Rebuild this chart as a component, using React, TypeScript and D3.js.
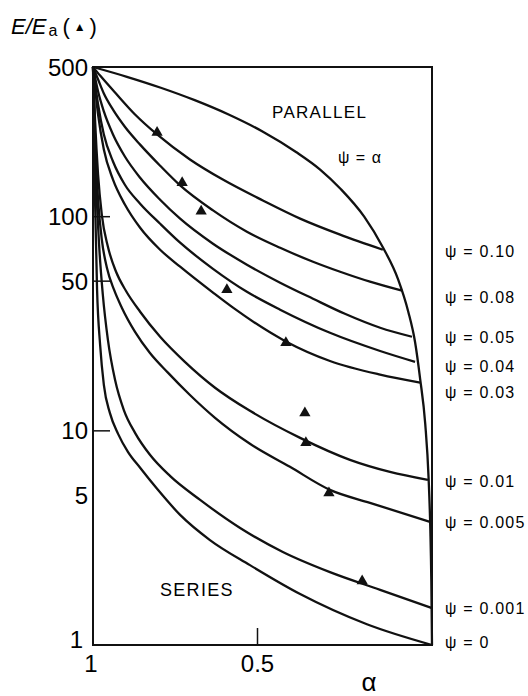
import React, { useEffect, useRef } from 'react';
import * as d3 from 'd3';

type Pt = [number, number]; // [alpha, E/Ea]

const yTickValues = [500, 100, 50, 10, 5, 1];
const yTickMarks = [100, 50, 10];
const xTickValues = [1, 0.5];
const xTickMarks = [0.5];

// upper bound (psi = alpha)
const parallel: Pt[] = [
  [1, 500], [0.9, 450], [0.8, 400], [0.7, 350], [0.6, 300], [0.5, 250],
  [0.4, 200], [0.33, 166], [0.27, 135], [0.2, 100], [0.145, 72], [0.1, 51],
  [0.07, 36], [0.05, 26], [0.035, 17.5], [0.02, 10.8], [0.01, 6], [0.005, 3.5],
  [0.002, 2], [0, 1],
];

const psi010: Pt[] = [
  [1, 500], [0.979, 456], [0.935, 380], [0.876, 300], [0.811, 242], [0.714, 185],
  [0.617, 149], [0.499, 119], [0.389, 97.9], [0.271, 82.4], [0.145, 70.1],
];

const psi008: Pt[] = [
  [1, 500], [0.985, 437], [0.968, 376], [0.941, 316], [0.906, 263], [0.861, 217],
  [0.802, 173], [0.743, 140], [0.646, 107], [0.546, 85.1], [0.448, 71.6],
  [0.351, 61.6], [0.271, 55.3], [0.183, 49.7], [0.088, 45.1],
];

const psi005: Pt[] = [
  [1, 500], [0.985, 384], [0.968, 310], [0.941, 242], [0.906, 191], [0.861, 152],
  [0.802, 120], [0.743, 97.9], [0.646, 74.8], [0.546, 59.7], [0.448, 49.2],
  [0.351, 41.4], [0.257, 35.2], [0.153, 30.3], [0.059, 27.5],
];

const psi004: Pt[] = [
  [1, 500], [0.985, 334], [0.968, 242], [0.941, 181], [0.906, 141], [0.861, 115],
  [0.802, 92.7], [0.743, 75.6], [0.646, 57.1], [0.546, 44.6], [0.448, 36.8],
  [0.301, 28.7], [0.153, 23.6], [0.05, 21],
];

const psi003: Pt[] = [
  [1, 500], [0.985, 300], [0.968, 206], [0.941, 149], [0.906, 114], [0.861, 88.8],
  [0.802, 70.1], [0.743, 58.4], [0.646, 44.2], [0.587, 37.6], [0.434, 26.3],
  [0.301, 21.2], [0.153, 18.3], [0.035, 16.8],
];

const psi001: Pt[] = [
  [1, 500], [0.994, 284], [0.985, 157], [0.974, 102], [0.956, 72.4], [0.932, 55.3],
  [0.903, 45.1], [0.861, 36], [0.802, 27.5], [0.729, 21], [0.64, 15.9],
  [0.537, 12.4], [0.389, 9.27], [0.242, 7.32], [0.124, 6.43], [0.012, 5.9],
];

const psi0005: Pt[] = [
  [1, 500], [0.994, 229], [0.985, 120], [0.974, 78.1], [0.959, 57.8], [0.938, 45.6],
  [0.915, 37.6], [0.876, 29], [0.832, 23.1], [0.779, 18.7], [0.714, 14.7],
  [0.64, 11.5], [0.537, 8.7], [0.419, 6.79], [0.301, 5.3], [0.183, 4.61],
  [0.006, 3.76],
];

const psi0001: Pt[] = [
  [1, 500], [0.991, 149], [0.982, 74], [0.971, 43.2], [0.956, 26.6], [0.935, 17.3],
  [0.909, 12.5], [0.876, 9.79], [0.832, 7.73], [0.773, 6.16], [0.684, 4.76],
  [0.566, 3.52], [0.44, 2.72], [0.301, 2.19], [0.153, 1.81], [0.001, 1.49],
];

// lower bound (series)
const psi0: Pt[] = [
  [1, 500], [0.994, 120], [0.988, 45.6], [0.979, 25.2], [0.968, 16.4], [0.95, 12.1],
  [0.926, 9.68], [0.897, 7.98], [0.861, 6.72], [0.811, 5.36], [0.743, 4.05],
  [0.655, 3.09], [0.537, 2.36], [0.389, 1.73], [0.192, 1.25], [0, 1],
];

const curves: Pt[][] = [parallel, psi010, psi008, psi005, psi004, psi003, psi001, psi0005, psi0001, psi0];

const psiLabels = ['ψ = 0.10', 'ψ = 0.08', 'ψ = 0.05', 'ψ = 0.04', 'ψ = 0.03', 'ψ = 0.01', 'ψ = 0.005', 'ψ = 0.001', 'ψ = 0'];
const psiLabelAt = [68.6, 42.2, 27.2, 20.1, 15.2, 5.78, 3.75, 1.49, 1.03];

// measured E/Ea (filled triangles)
const measured: Pt[] = [
  [0.811, 247], [0.737, 144], [0.681, 106], [0.605, 45.6], [0.431, 25.8],
  [0.375, 12.1], [0.372, 8.8], [0.304, 5.13], [0.206, 1.99],
];

const FONT = '"Liberation Sans", Arial, sans-serif';

const App: React.FC = () => {
  const svgRef = useRef<SVGSVGElement>(null);

  useEffect(() => {
    if (!svgRef.current) return;
    const svg = d3.select(svgRef.current);
    svg.selectAll('*').remove();

    const x = d3.scaleLinear().domain([1, 0]).range([93, 432]);
    const y = d3.scaleLog().domain([1, 500]).range([645, 67]);

    svg.append('rect').attr('width', 528).attr('height', 696).attr('fill', '#fff');

    // frame
    svg.append('rect')
      .attr('x', x(1)).attr('y', y(500))
      .attr('width', x(0) - x(1)).attr('height', y(1) - y(500))
      .attr('fill', 'none').attr('stroke', '#111').attr('stroke-width', 2);

    // tick marks
    svg.selectAll('line.yt')
      .data(yTickMarks)
      .enter()
      .append('line')
      .attr('x1', x(1)).attr('x2', x(1) + 17)
      .attr('y1', d => y(d)).attr('y2', d => y(d))
      .attr('stroke', '#111').attr('stroke-width', 1.5);

    svg.selectAll('line.xt')
      .data(xTickMarks)
      .enter()
      .append('line')
      .attr('x1', d => x(d) - 5).attr('x2', d => x(d) - 5)
      .attr('y1', y(1)).attr('y2', y(1) - 17)
      .attr('stroke', '#111').attr('stroke-width', 1.5);

    // tick labels
    svg.selectAll('text.yl')
      .data(yTickValues)
      .enter()
      .append('text')
      .attr('x', d => (d === 1 ? 83 : 88))
      .attr('y', d => (d === 1 ? y(d) - 6 : y(d)))
      .attr('dy', '0.36em')
      .attr('text-anchor', 'end')
      .attr('font-family', FONT).attr('font-size', 24)
      .text(d => String(d));

    svg.selectAll('text.xl')
      .data(xTickValues)
      .enter()
      .append('text')
      .attr('x', d => (d === 1 ? x(d) - 2 : x(d) - 5))
      .attr('y', 672)
      .attr('text-anchor', 'middle')
      .attr('font-family', FONT).attr('font-size', 24)
      .text(d => String(d));

    svg.append('text')
      .attr('x', 369).attr('y', 691)
      .attr('text-anchor', 'middle')
      .attr('font-family', FONT).attr('font-size', 26)
      .text('α');

    // y title E/Ea(▲)
    const title = svg.append('text')
      .attr('x', 11).attr('y', 34)
      .attr('font-family', FONT).attr('font-size', 22);
    title.append('tspan').attr('font-style', 'italic').text('E/E');
    title.append('tspan').attr('font-size', 16).attr('dy', 2).attr('dx', 2).text('a');
    title.append('tspan').attr('dy', -2).attr('dx', 5).text('(');
    title.append('tspan').attr('font-size', 12).attr('dy', -3).attr('dx', 4).text('▲');
    title.append('tspan').attr('dy', 3).attr('dx', 4).text(')');

    // model curves
    const line = d3.line<Pt>()
      .x(d => x(d[0]))
      .y(d => y(d[1]))
      .curve(d3.curveMonotoneX);

    svg.selectAll('path.curve')
      .data(curves)
      .enter()
      .append('path')
      .attr('d', d => line(d) || '')
      .attr('fill', 'none')
      .attr('stroke', '#111')
      .attr('stroke-width', 2.3)
      .attr('stroke-linejoin', 'round');

    // measured points
    svg.selectAll('path.pt')
      .data(measured)
      .enter()
      .append('path')
      .attr('d', d3.symbol(d3.symbolTriangle, 55)() || '')
      .attr('transform', d => `translate(${x(d[0])},${y(d[1])})`)
      .attr('fill', '#111');

    // psi labels on the right
    svg.selectAll('text.psi')
      .data(psiLabels)
      .enter()
      .append('text')
      .attr('x', 445)
      .attr('y', (d, i) => y(psiLabelAt[i]))
      .attr('dy', '0.35em')
      .attr('font-family', FONT).attr('font-size', 16)
      .attr('letter-spacing', 1.2)
      .text(d => d);

    svg.append('text')
      .attr('x', 272).attr('y', 118)
      .attr('font-family', FONT).attr('font-size', 17)
      .attr('letter-spacing', 1.3)
      .text('PARALLEL');

    svg.append('text')
      .attr('x', 338).attr('y', 163)
      .attr('font-family', FONT).attr('font-size', 16)
      .attr('letter-spacing', 1)
      .text('ψ = α');

    svg.append('text')
      .attr('x', 160).attr('y', 596)
      .attr('font-family', FONT).attr('font-size', 18)
      .attr('letter-spacing', 1.3)
      .text('SERIES');
  }, []);

  return (
    <svg
      ref={svgRef}
      width={528}
      height={696}
      style={{ position: 'absolute', left: 0, top: 0, display: 'block' }}
    />
  );
};

export default App;
